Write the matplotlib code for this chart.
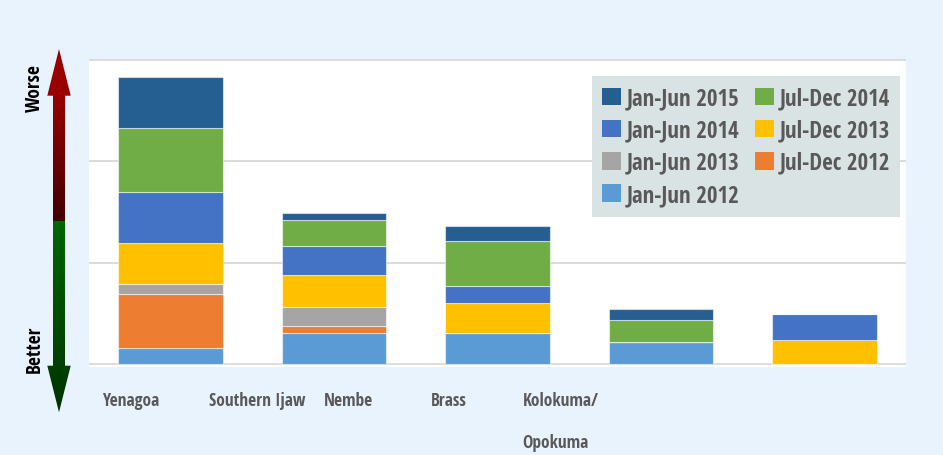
import numpy as np
import matplotlib
matplotlib.use("Agg")
import matplotlib.pyplot as plt
from matplotlib.patches import Polygon, Patch

# ---------------- data ----------------
categories = ["Yenagoa", "Southern Ijaw", "Nembe", "Brass", "Kolokuma/\nOpokuma"]
periods = ["Jan-Jun 2012", "Jul-Dec 2012", "Jan-Jun 2013", "Jul-Dec 2013",
           "Jan-Jun 2014", "Jul-Dec 2014", "Jan-Jun 2015"]
jan_jun_2012 = [16, 31, 31, 22.5, 0]
jul_dec_2012 = [53, 6.5, 0, 0, 0]
jan_jun_2013 = [10.5, 19, 0, 0, 0]
jul_dec_2013 = [40, 31.5, 30, 0, 24.4]
jan_jun_2014 = [50, 29, 16.5, 0, 25.3]
jul_dec_2014 = [64, 25.6, 44.3, 21.4, 0]
jan_jun_2015 = [50, 6.6, 14.8, 10.5, 0]
series = [jan_jun_2012, jul_dec_2012, jan_jun_2013, jul_dec_2013,
          jan_jun_2014, jul_dec_2014, jan_jun_2015]
colors = ["#5B9BD5", "#ED7D31", "#A5A5A5", "#FFC000", "#4472C4", "#70AD47", "#255E91"]
grid_ticks = [0, 100, 200, 300]

# ---------------- fonts ----------------
FONT = "Open Sans Condensed"
plt.rcParams["font.family"] = [FONT, "DejaVu Sans"]
plt.rcParams["font.weight"] = "bold"

BG = "#E9F3FD"
TXT = "#595959"
W, H = 943, 456

fig = plt.figure(figsize=(W / 100, H / 100), dpi=100, facecolor=BG)
ax = fig.add_axes([89 / W, 1 - 368 / H, 817 / W, 308 / H])
ax.set_facecolor("white")
x = np.arange(len(categories))
bottom = np.zeros(len(categories))
for vals, col in zip(series, colors):
    v = np.array(vals, dtype=float)
    ax.bar(x, v, width=0.64, bottom=bottom, color=col,
           edgecolor=(1, 1, 1, 0.55), linewidth=0.8, zorder=3)
    bottom += v
ax.set_xlim(-0.5, len(categories) - 0.5)
ax.set_ylim(-2.5, 301)
ax.set_yticks(grid_ticks)
ax.yaxis.grid(True, color="#D9D9D9", linewidth=1.3, zorder=0)
ax.tick_params(left=False, bottom=False, labelleft=False, labelbottom=False)
for s in ax.spines.values():
    s.set_visible(False)

# legend: row-wise order in reference
order = [6, 4, 2, 0, 5, 3, 1]
handles = [Patch(facecolor=colors[i], edgecolor="none") for i in order]
labels = [periods[i] for i in order]
leg = ax.legend(handles, labels, ncol=2, loc="upper right",
                bbox_to_anchor=(900 / W, 1 - 77 / H), bbox_transform=fig.transFigure,
                frameon=True, fancybox=False, framealpha=1, facecolor="#DAE3E3",
                edgecolor="none", fontsize=16.5, handlelength=0.8, handleheight=0.8,
                handletextpad=0.25, columnspacing=0.7, labelspacing=0.36,
                borderpad=0.45, borderaxespad=0)
for t in leg.get_texts():
    t.set_color(TXT)
    t.set_fontweight("bold")

# category labels (placed as in the reference, below the plot)
label_x = [101.7, 209, 324, 431, 522.7]
for cx, cat in zip(label_x, categories):
    for k, line in enumerate(cat.split("\n")):
        fig.text(cx / W, 1 - (406.5 + 41.5 * k) / H, line, ha="left", va="baseline",
                 fontsize=12.5, color=TXT, fontweight="bold")

# gradient double arrow
ov = fig.add_axes([0, 0, 1, 1], facecolor="none")
ov.set_xlim(0, W)
ov.set_ylim(H, 0)
ov.axis("off")
cx0 = 59
verts = [(cx0, 50), (cx0 + 11.7, 96.7), (cx0 + 6, 96.7), (cx0 + 6, 366.7),
         (cx0 + 11.7, 366.7), (cx0, 413.3), (cx0 - 11.7, 366.7), (cx0 - 6, 366.7),
         (cx0 - 6, 96.7), (cx0 - 11.7, 96.7)]
poly = Polygon(verts, closed=True, facecolor="none", edgecolor="none")
ov.add_patch(poly)
ys = np.linspace(50, 413.3, 400)
img = np.zeros((len(ys), 1, 3))
def hexrgb(h):
    return np.array([int(h[i:i + 2], 16) / 255 for i in (1, 3, 5)])
r_top, r_bot = hexrgb("#990000"), hexrgb("#420000")
g_top, g_bot = hexrgb("#006600"), hexrgb("#003300")
for i, yy in enumerate(ys):
    if yy < 222.7:
        t = np.clip((yy - 96) / (222.7 - 96), 0, 1)
        img[i, 0] = r_top * (1 - t) + r_bot * t
    else:
        t = (yy - 222.7) / (413.3 - 222.7)
        img[i, 0] = g_top * (1 - t) + g_bot * t
im = ov.imshow(img, extent=(45, 73, 413.3, 50), origin="upper", aspect="auto",
               interpolation="bilinear")
im.set_clip_path(poly)
ov.set_xlim(0, W)
ov.set_ylim(H, 0)

fig.text(35 / W, 1 - 88 / H, "Worse", rotation=90, ha="center", va="center",
         fontsize=14, color="black", fontweight="bold")
fig.text(35 / W, 1 - 349.5 / H, "Better", rotation=90, ha="center", va="center",
         fontsize=14, color="black", fontweight="bold")

fig.savefig("out.png", dpi=100, facecolor=BG)
